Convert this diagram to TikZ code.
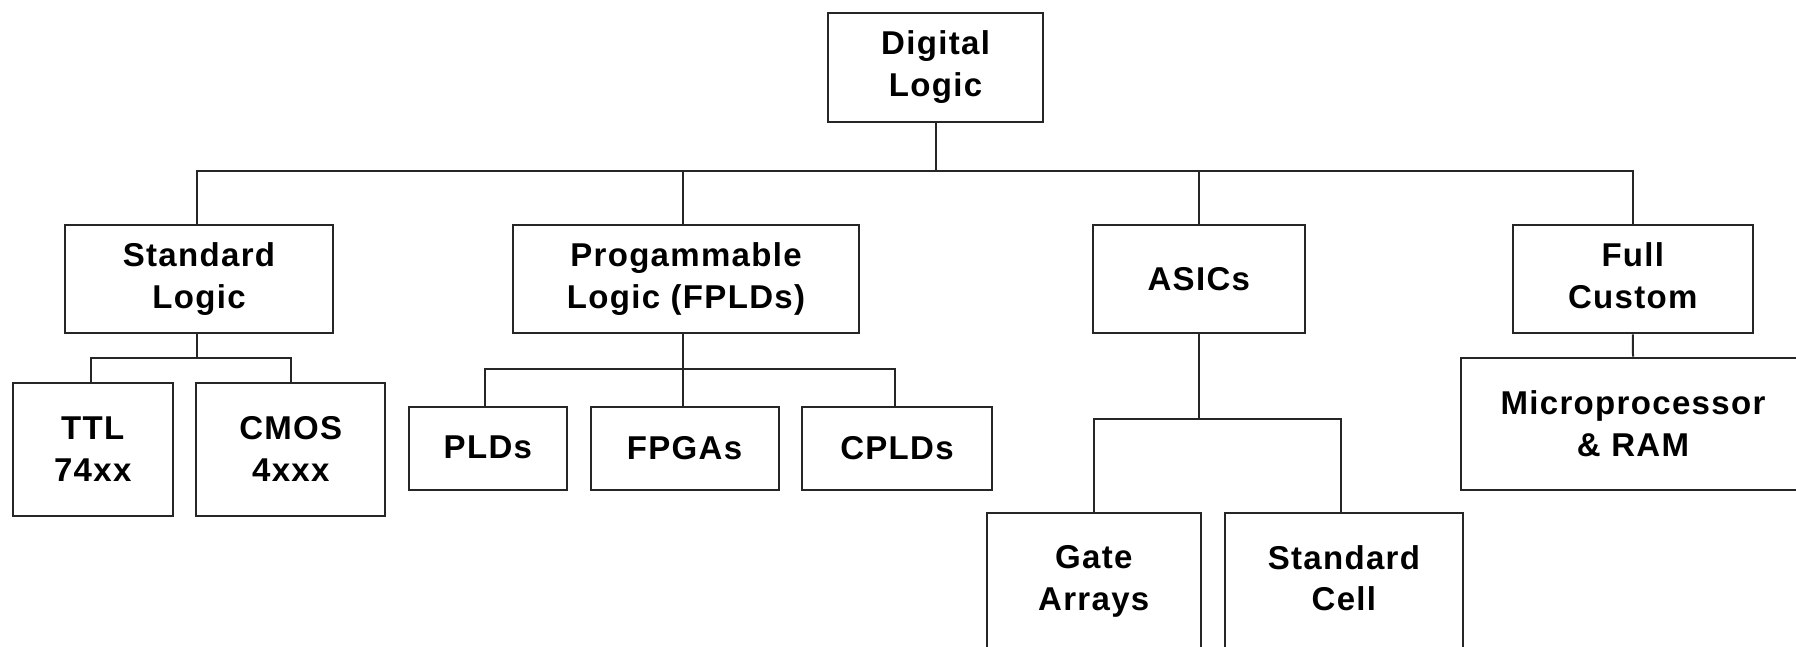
\documentclass[tikz,border=0pt]{standalone}
\usepackage{fontspec}
\setmainfont[LetterSpace=4]{Liberation Sans}
\definecolor{linec}{HTML}{262626}
\begin{document}
\begin{tikzpicture}[x=1pt,y=-1pt,
  box/.style={draw=linec, line width=2pt, inner sep=0pt, align=center,
    font=\bfseries\fontsize{33}{41.7}\selectfont},
  conn/.style={draw=linec, line width=2pt}]
\useasboundingbox (0,0) rectangle (1796,646);
\clip (0,0) rectangle (1796,646);
% level 0
\node[box, minimum width=214.6pt, minimum height=109pt] (dl) at (935.6,67.2) {Digital\\Logic};
% level 1
\node[box, minimum width=268pt, minimum height=108.3pt] (sl) at (199,279.2) {Standard\\Logic};
\node[box, minimum width=346.7pt, minimum height=108.3pt] (pl) at (686,279.2) {Progammable\\Logic (FPLDs)};
\node[box, minimum width=212.4pt, minimum height=108.3pt] (as) at (1198.8,279.2) {ASICs};
\node[box, minimum width=240.4pt, minimum height=108.3pt, text depth=7pt] (fc) at (1632.8,279.2) {Full\\Custom};
% level 2
\node[box, minimum width=160pt, minimum height=133.3pt] (ttl) at (92.8,449.3) {TTL\\74xx};
\node[box, minimum width=188.8pt, minimum height=133.3pt] (cmos) at (290.8,449.3) {CMOS\\4xxx};
\node[box, minimum width=158.2pt, minimum height=82.7pt, text depth=2pt] (plds) at (487.9,448.6) {PLDs};
\node[box, minimum width=188.1pt, minimum height=82.7pt, text depth=2pt] (fpgas) at (684.6,448.6) {FPGAs};
\node[box, minimum width=189.4pt, minimum height=82.7pt, text depth=2pt] (cplds) at (897,448.6) {CPLDs};
\node[box, minimum width=214.2pt, minimum height=137pt] (ga) at (1093.8,581.5) {Gate\\Arrays};
\node[box, minimum width=237.4pt, minimum height=137pt, text depth=7pt] (sc) at (1343.9,581.5) {Standard\\Cell};
\node[box, minimum width=345pt, minimum height=132pt] (mp) at (1633,423.7) {Microprocessor\\\& RAM};
% bus levels
\coordinate (bus0) at (0,171);
\coordinate (bussl) at (0,357.7);
\coordinate (buspl) at (0,369.3);
\coordinate (busas) at (0,419);
% connectors
\draw[conn] (dl.south) -- (dl.south |- bus0) -| ([xshift=-2pt]sl.north);
\draw[conn] (dl.south) -- (dl.south |- bus0) -| ([xshift=-3pt]pl.north);
\draw[conn] (dl.south) -- (dl.south |- bus0) -| (as.north);
\draw[conn] (dl.south) -- (dl.south |- bus0) -| (fc.north);
\draw[conn] ([xshift=-2pt]sl.south) -- ([xshift=-2pt]sl.south |- bussl) -| ([xshift=-2pt]ttl.north);
\draw[conn] ([xshift=-2pt]sl.south) -- ([xshift=-2pt]sl.south |- bussl) -| (cmos.north);
\draw[conn] ([xshift=-3pt]pl.south) -- ([xshift=-3pt]pl.south |- buspl) -| ([xshift=-3pt]plds.north);
\draw[conn] ([xshift=-3pt]pl.south) -- ([xshift=-1.6pt]fpgas.north);
\draw[conn] ([xshift=-3pt]pl.south) -- ([xshift=-3pt]pl.south |- buspl) -| ([xshift=-2pt]cplds.north);
\draw[conn] (as.south) -- (as.south |- busas) -| (ga.north);
\draw[conn] (as.south) -- (as.south |- busas) -| ([xshift=-3pt]sc.north);
\draw[conn] (fc.south) -- (mp.north);
\end{tikzpicture}
\end{document}
